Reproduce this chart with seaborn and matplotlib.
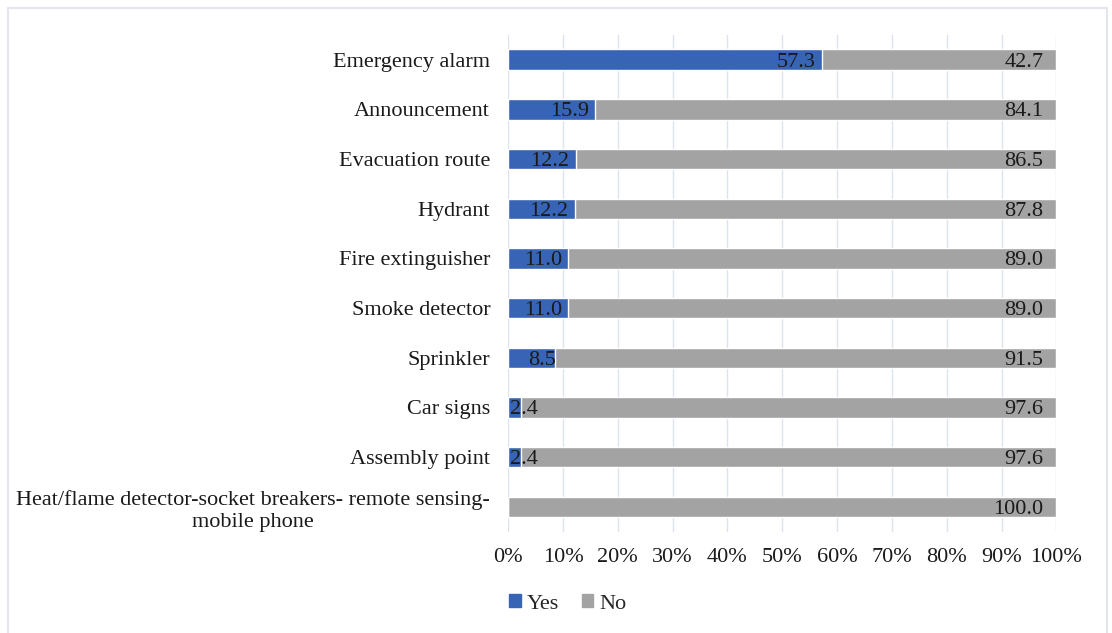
import pandas as pd
import matplotlib.pyplot as plt
import seaborn as sns
from matplotlib.patches import Patch, Rectangle

# values (percent)
items = ['Emergency alarm', 'Announcement', 'Evacuation route', 'Hydrant',
         'Fire extinguisher', 'Smoke detector', 'Sprinkler', 'Car signs',
         'Assembly point',
         'Heat/flame detector-socket breakers- remote sensing-\nmobile phone']
yes_vals = [57.3, 15.9, 12.2, 12.2, 11.0, 11.0, 8.5, 2.4, 2.4, 0.0]
no_vals = [42.7, 84.1, 86.5, 87.8, 89.0, 89.0, 91.5, 97.6, 97.6, 100.0]
x_ticks = [0, 10, 20, 30, 40, 50, 60, 70, 80, 90, 100]

blue = '#3764B4'
gray = '#A3A3A3'
fs = 16

df = pd.DataFrame({'item': items, 'yes': yes_vals, 'no': no_vals})
df['total'] = df['yes'] + df['no']
# 100% stacked: normalise each row
df['yes_pct'] = df['yes'] / df['total'] * 100
df['full'] = 100.0

sns.set_style('white')
plt.rcParams['font.family'] = ['Liberation Serif', 'DejaVu Serif']

fig = plt.figure(figsize=(11.12, 6.33), dpi=100)
# light frame around the chart area (open at the bottom)
fig.patches.append(Rectangle((8 / 1112, -0.05), 1099 / 1112, 1.05 - 8 / 633,
                             transform=fig.transFigure, fill=False,
                             edgecolor='#E3E7ED', linewidth=1.5))
ax = fig.add_axes([0.457, 0.160, 0.493, 0.785])

sns.barplot(data=df, y='item', x='full', color=gray, orient='h', width=0.41,
            saturation=1, ax=ax, zorder=2)
sns.barplot(data=df, y='item', x='yes_pct', color=blue, orient='h', width=0.41,
            saturation=1, ax=ax, zorder=3)

# labels (inside end, like excel; short segments spill over)
for i, row in df.iterrows():
    if row['yes'] > 0:
        if row['yes_pct'] >= 10:
            ax.text(row['yes_pct'] - 1.2, i, f"{row['yes']:.1f}", ha='right',
                    va='center_baseline', fontsize=fs, color='#1a1a1a', zorder=5)
        elif row['yes_pct'] >= 5:
            ax.text(row['yes_pct'] + 0.3, i, f"{row['yes']:.1f}", ha='right',
                    va='center_baseline', fontsize=fs, color='#1a1a1a', zorder=5)
        else:
            ax.text(0.4, i, f"{row['yes']:.1f}", ha='left', va='center_baseline',
                    fontsize=fs, color='#1a1a1a', zorder=5)
    ax.text(97.6, i, f"{row['no']:.1f}", ha='right', va='center_baseline',
            fontsize=fs, color='#1a1a1a', zorder=5)

ax.set_xlim(0, 100)
ax.set_xticks(x_ticks)
ax.set_xticklabels([f'{t}%' for t in x_ticks])
ax.xaxis.grid(True, color='#DCE3EC', linewidth=1, zorder=0)
ax.set_axisbelow(True)
for s in ax.spines.values():
    s.set_visible(False)
ax.set_xlabel('')
ax.set_ylabel('')
ax.tick_params(axis='both', length=0, labelsize=fs, colors='#1a1a1a')
ax.tick_params(axis='x', pad=12)
ax.tick_params(axis='y', pad=13)
for lab in ax.get_yticklabels():
    lab.set_multialignment('center')

handles = [Patch(color=blue, label='Yes'), Patch(color=gray, label='No')]
fig.legend(handles=handles, loc='center', bbox_to_anchor=(568 / 1112, 1 - 604 / 633),
           ncol=2, frameon=False, fontsize=fs, handlelength=0.5, handleheight=0.5,
           handletextpad=0.3, columnspacing=1.0)

fig.savefig('out.png', dpi=100)
